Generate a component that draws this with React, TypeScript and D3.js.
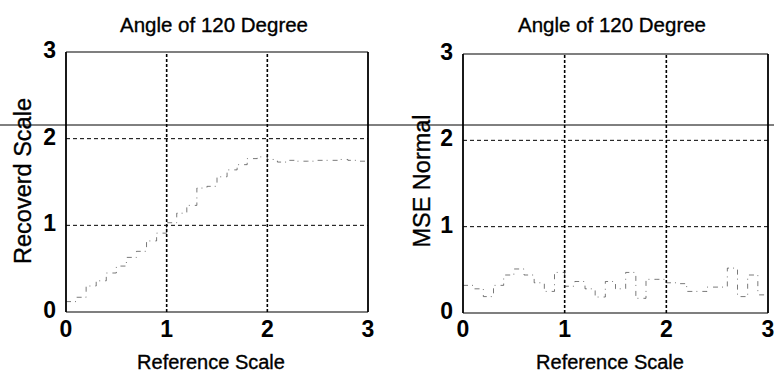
import React from "react";
import * as d3 from "d3";

// Reference scale sampled every 0.1 (stairs, last point closes the step at 3)
const refScale = [
  0.0, 0.1, 0.2, 0.3, 0.4, 0.5, 0.6, 0.7, 0.8, 0.9, 1.0, 1.1, 1.2, 1.3, 1.4,
  1.5, 1.6, 1.7, 1.8, 1.9, 2.0, 2.1, 2.2, 2.3, 2.4, 2.5, 2.6, 2.7, 2.8, 2.9, 3.0,
];

// Recovered scale for a 120 degree rotation
const recovered = [
  0.12, 0.17, 0.3, 0.36, 0.45, 0.53, 0.63, 0.7, 0.82, 0.91, 1.03, 1.14, 1.23,
  1.43, 1.45, 1.56, 1.64, 1.7, 1.77, 1.79, 1.76, 1.73, 1.75, 1.74, 1.74, 1.75,
  1.75, 1.76, 1.75, 1.74, 1.74,
];

// Normalised mean squared error for the same rotation
const mseNormal = [
  0.32, 0.28, 0.19, 0.32, 0.44, 0.51, 0.44, 0.35, 0.25, 0.47, 0.31, 0.365, 0.28,
  0.185, 0.365, 0.28, 0.47, 0.17, 0.39, 0.39, 0.35, 0.34, 0.25, 0.25, 0.3, 0.3,
  0.52, 0.19, 0.44, 0.21, 0.21,
];

const ticks = [0, 1, 2, 3];
const titleText = "Angle of 120 Degree";
const xLabelText = "Reference Scale";

const FONT = "'Liberation Sans', Arial, Helvetica, sans-serif";
const TICK_FONT = "'Liberation Sans Narrow', 'Arial Narrow', 'Liberation Sans', Arial, sans-serif";

type PanelProps = {
  x0: number;
  x1: number;
  y0: number;
  y1: number;
  values: number[];
  yLabel: string;
  titleX: number;
  xLabelX: number;
  yLabelX: number;
};

function Panel({ x0, x1, y0, y1, values, yLabel, titleX, xLabelX, yLabelX }: PanelProps) {
  const x = d3.scaleLinear().domain([0, 3]).range([x0, x1]);
  const y = d3.scaleLinear().domain([0, 3]).range([y0, y1]);
  const pts: [number, number][] = refScale.map((r, i) => [r, values[i]]);
  const line = d3
    .line<[number, number]>()
    .x((d) => x(d[0]))
    .y((d) => y(d[1]))
    .curve(d3.curveStepAfter);

  return (
    <g>
      <text
        x={titleX}
        y={32}
        textAnchor="middle"
        fontFamily={FONT}
        fontSize={20.5}
        fill="#000"
        stroke="#000"
        strokeWidth={0.35}
      >
        {titleText}
      </text>

      {/* dotted grid */}
      {[1, 2].map((t) => (
        <line
          key={"gv" + t}
          x1={x(t)}
          x2={x(t)}
          y1={y(0)}
          y2={y(3)}
          stroke="#000"
          strokeWidth={1.6}
          strokeDasharray="3 2"
        />
      ))}
      {[1, 2].map((t) => (
        <line
          key={"gh" + t}
          x1={x(0)}
          x2={x(3)}
          y1={y(t)}
          y2={y(t)}
          stroke="#000"
          strokeWidth={1}
          strokeDasharray="4 3"
        />
      ))}

      {/* data */}
      <path
        d={line(pts) || ""}
        fill="none"
        stroke="#333"
        strokeWidth={1}
        strokeOpacity={0.65}
        strokeDasharray="5 4 1 5"
      />

      {/* axes box */}
      <line x1={x(0)} x2={x(3)} y1={y(3)} y2={y(3)} stroke="#000" strokeWidth={1.2} />
      <line x1={x(0)} x2={x(3)} y1={y(0)} y2={y(0)} stroke="#000" strokeWidth={1.2} />
      <line x1={x(0)} x2={x(0)} y1={y(0)} y2={y(3)} stroke="#000" strokeWidth={1.8} />
      <line x1={x(3)} x2={x(3)} y1={y(0)} y2={y(3)} stroke="#000" strokeWidth={1.8} />

      {/* tick labels */}
      {ticks.map((t) => (
        <text
          key={"xt" + t}
          x={x(t)}
          y={337}
          textAnchor="middle"
          fontFamily={TICK_FONT}
          fontWeight="bold"
          fontSize={23}
          fill="#000"
        >
          {t}
        </text>
      ))}
      {ticks.map((t) => (
        <text
          key={"yt" + t}
          x={x0 - 10}
          y={y(t) + 6}
          textAnchor="end"
          fontFamily={TICK_FONT}
          fontWeight="bold"
          fontSize={23}
          fill="#000"
        >
          {t}
        </text>
      ))}

      <text
        x={xLabelX}
        y={369}
        textAnchor="middle"
        fontFamily={FONT}
        fontSize={20}
        fill="#000"
        stroke="#000"
        strokeWidth={0.35}
      >
        {xLabelText}
      </text>
      <text
        transform={`translate(${yLabelX},181) rotate(-90)`}
        textAnchor="middle"
        fontFamily={FONT}
        fontSize={23.5}
        fill="#000"
        stroke="#000"
        strokeWidth={0.35}
      >
        {yLabel}
      </text>
    </g>
  );
}

export default function App() {
  return (
    <svg
      width={774}
      height={378}
      viewBox="0 0 774 378"
      style={{ position: "absolute", left: 0, top: 0, background: "#fff" }}
    >
      <rect x={0} y={0} width={774} height={378} fill="#fff" />
      <Panel
        x0={66}
        x1={368}
        y0={312}
        y1={52}
        values={recovered}
        yLabel="Recoverd Scale"
        titleX={214}
        xLabelX={211}
        yLabelX={31}
      />
      <Panel
        x0={463}
        x1={768}
        y0={313}
        y1={54}
        values={mseNormal}
        yLabel="MSE Normal"
        titleX={612}
        xLabelX={610}
        yLabelX={430}
      />
      {/* rule across the page */}
      <line x1={0} x2={774} y1={125} y2={125} stroke="#000" strokeWidth={1} />
    </svg>
  );
}
